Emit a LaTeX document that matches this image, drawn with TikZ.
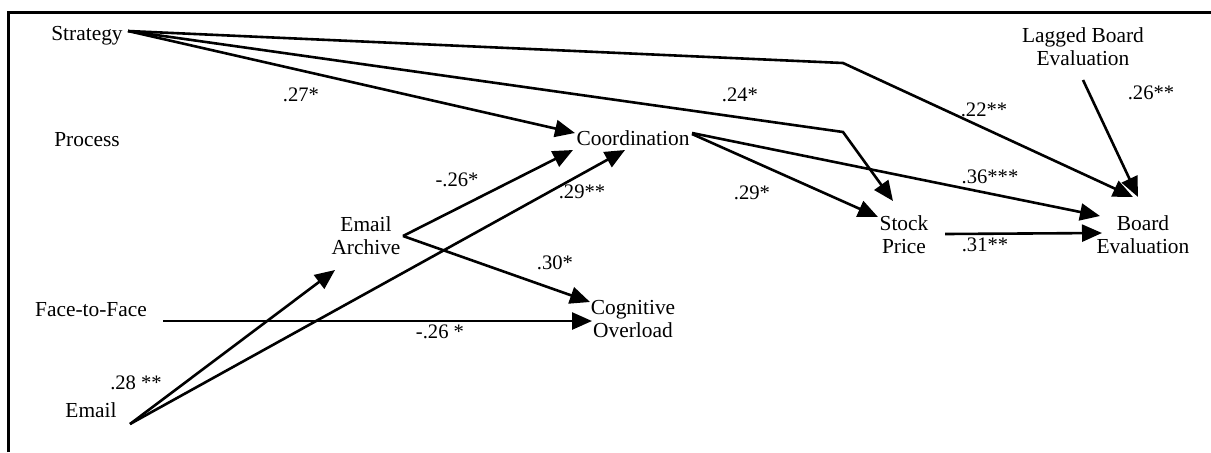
\documentclass[tikz,border=0pt]{standalone}
\usepackage{fontspec}
\setmainfont{Liberation Serif}
\usetikzlibrary{arrows.meta}
\begin{document}
\begin{tikzpicture}[x=0.5pt,y=-0.5pt,
  var/.style={inner sep=0pt, align=center, font=\fontsize{10.7}{11.6}\selectfont},
  coef/.style={inner sep=0pt, font=\fontsize{10.3}{12}\selectfont},
  link/.style={line width=1.3pt, -{Triangle[length=10pt,width=8.5pt]}},
  frame/.style={line width=1.6pt}]
\useasboundingbox (0,0) rectangle (1211,452);
% open frame: top and left edges
\draw[frame] (8.5,452) -- (8.5,12.5) -- (1211,12.5);

% variables
\node[var] (strategy)  at (87,36)   {Strategy};
\node[var] (process)   at (87,140)  {Process};
\node[var] (coord)     at (633,138) {Coordination};
\node[var] (archive)   at (366,236) {Email\\Archive};
\node[var] (f2f)       at (91,310)  {Face-to-Face};
\node[var] (email)     at (91,410)  {Email};
\node[var] (cognitive) at (633,319) {Cognitive\\Overload};
\node[var] (stock)     at (904,235) {Stock\\Price};
\node[var] (board)     at (1143,235){Board\\Evaluation};
\node[var] (lagged)    at (1083,47) {Lagged Board\\Evaluation};

% bend points of the long strategy paths
\coordinate (bendBoard) at (843,63);
\coordinate (bendStock) at (843,132);

% paths
\draw[link] ([shift={(41,-5)}]strategy.center) -- (bendBoard) -- ([shift={(-10,-38)}]board.center);
\draw[link] ([shift={(41,-5)}]strategy.center) -- (bendStock) -- ([shift={(-11,-34)}]stock.center);
\draw[link] ([shift={(41,-5)}]strategy.center) -- ([shift={(-58,-5)}]coord.center);
\draw[link] ([shift={(37,0)}]archive.center) -- ([shift={(-60,12)}]coord.center);
\draw[link] ([shift={(39,14)}]email.center) -- ([shift={(-8,12)}]coord.center);
\draw[link] ([shift={(39,14)}]email.center) -- ([shift={(-31,34)}]archive.center);
\draw[link] ([shift={(37,0)}]archive.center) -- ([shift={(-43,-17)}]cognitive.center);
\draw[link] ([shift={(72,11)}]f2f.center) -- ([shift={(-41,2)}]cognitive.center);
\draw[link] ([shift={(59,-5)}]coord.center) -- ([shift={(-43,-19)}]board.center);
\draw[link] ([shift={(59,-4)}]coord.center) -- ([shift={(-26,-18)}]stock.center);
\draw[link] ([shift={(41,-1)}]stock.center) -- ([shift={(-41,-2)}]board.center);
\draw[link] ([shift={(0,33)}]lagged.center) -- ([shift={(-5,-38)}]board.center);

% path coefficients
\node[coef] (c1)  at (301,95)  {.27*};
\node[coef] (c2)  at (740,95)  {.24*};
\node[coef] (c3)  at (984,110) {.22**};
\node[coef] (c4)  at (1151,93) {.26**};
\node[coef] (c5)  at (457,180) {-.26*};
\node[coef] (c6)  at (582,192) {.29**};
\node[coef] (c7)  at (752,193) {.29*};
\node[coef] (c8)  at (990,177) {.36***};
\node[coef] (c9)  at (555,263) {.30*};
\node[coef] (c10) at (440,332) {-.26 *};
\node[coef] (c11) at (136,383) {.28 **};
\node[coef] (c12) at (985,245) {.31**};
\end{tikzpicture}
\end{document}
